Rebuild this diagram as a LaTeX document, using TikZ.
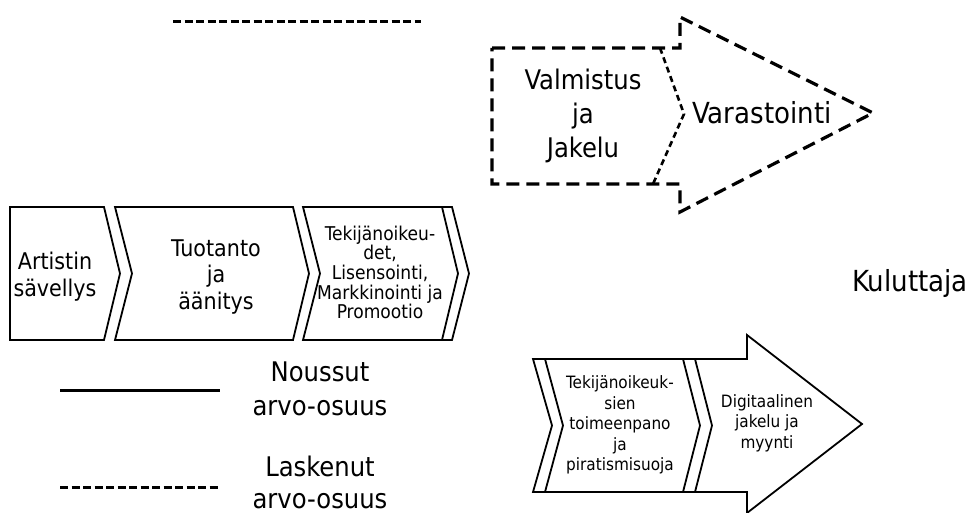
\documentclass[tikz,border=0pt]{standalone}
\usepackage{fontspec}
\setmainfont{DejaVu Sans Condensed}
\begin{document}
\begin{tikzpicture}[x=1pt, y=-1pt,
    txt/.style = {align=center, inner sep=0pt},
    big/.style = {txt, font=\fontsize{27}{34}\selectfont},
    huge/.style = {txt, font=\fontsize{29}{34}\selectfont},
    mid/.style = {txt, font=\fontsize{23}{26.5}\selectfont},
    small/.style = {txt, font=\fontsize{19}{19.7}\selectfont},
    tiny/.style = {txt, font=\fontsize{17}{20.5}\selectfont},
    box/.style = {draw, line width=1.8pt, line join=miter},
    dbox/.style = {draw, line width=3.2pt, dash pattern=on 13pt off 7pt},
    dline/.style = {draw, line width=3pt, dash pattern=on 8pt off 3.5pt}]
  \useasboundingbox (0,0) rectangle (971,513);

  % dashed line on top
  \coordinate (t1) at (173,22);
  \coordinate (t2) at (421,22);
  \draw [dline] (t1) -- (t2);

  % dashed arrow
  \draw [dbox] (492,48) -- (680,48) -- (680,17) -- (873,113) -- (680,212) -- (680,184) -- (492,184) -- cycle;
  \draw [draw, line width=2.6pt, dash pattern=on 6pt off 4pt] (660,48) -- (684,114) -- (653,184);
  \node[big] (V) at (583,116) {Valmistus\\ja\\Jakelu};
  \node[huge] (W) at (762,113) {Varastointi};

  % chevron row
  \draw [box] (10,207) -- (104,207) -- (120,273.5) -- (104,340) -- (10,340) -- cycle;
  \draw [box] (115,207) -- (293,207) -- (309,273.5) -- (293,340) -- (115,340) -- (132,273.5) -- cycle;
  \draw [box] (303,207) -- (442,207) -- (458,273.5) -- (442,340) -- (303,340) -- (320,273.5) -- cycle;
  \draw [box] (442,207) -- (452,207) -- (469,273.5) -- (452,340) -- (442,340);
  \node[mid] (A) at (55,276.5) {Artistin\\sävellys};
  \node[mid] (T) at (216,277) {Tuotanto\\ja\\äänitys};
  \node[small] (L) at (380,272.5) {Tekijänoikeu-\\det,\\Lisensointi,\\Markkinointi ja\\Promootio};

  \node[huge] (K) at (910,283) {Kuluttaja};

  % arrow below
  \draw [box] (533,359) -- (747,359) -- (747,335) -- (862,424) -- (747,513) -- (747,492) -- (533,492) -- (552,425.5) -- cycle;
  \draw [box] (545,359) -- (563,425.5) -- (545,492);
  \draw [box] (683,359) -- (700,425.5) -- (683,492);
  \draw [box] (695,359) -- (712,425.5) -- (695,492);
  \node[tiny] (P) at (620,425) {Tekijänoikeuk-\\sien\\toimeenpano\\ja\\piratismisuoja};
  \node[tiny] (D) at (767,423) {Digitaalinen\\jakelu ja\\myynti};

  % legend
  \coordinate (s1) at (60,390);
  \coordinate (s2) at (220,390);
  \draw [line width=3pt] (s1) -- (s2);
  \node[big] (N) at (320,389) {Noussut\\arvo-osuus};
  \coordinate (l1) at (60,487);
  \coordinate (l2) at (220,487);
  \draw [dline] (l1) -- (l2);
  \node[big, font=\fontsize{27}{32}\selectfont] (S) at (320,482) {Laskenut\\arvo-osuus};
\end{tikzpicture}
\end{document}
